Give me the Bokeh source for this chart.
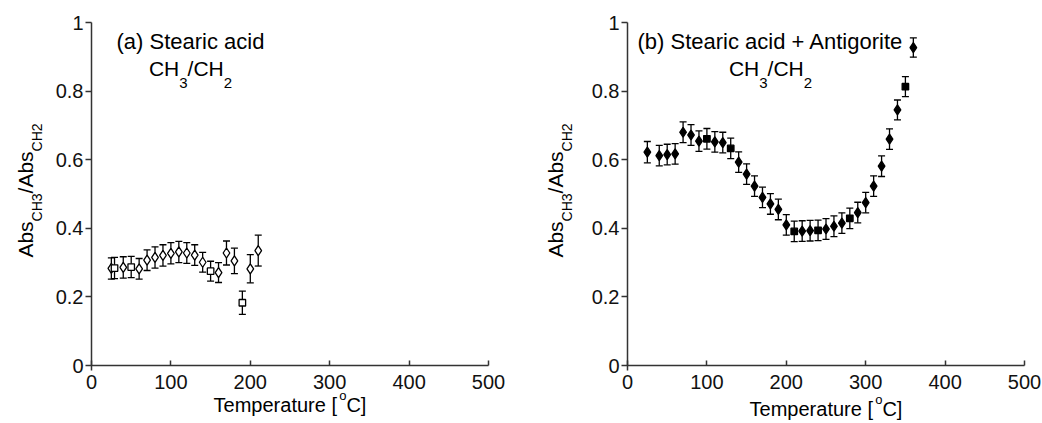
import math
from bokeh.plotting import figure
from bokeh.layouts import row
from bokeh.models import (ColumnDataSource, Whisker, TeeHead, Range1d, FixedTicker,
                          CustomJSTickFormatter, Label, LinearAxis)
from bokeh.embed import file_html
from bokeh.resources import INLINE

# ---------------- data ----------------
a_temp = [25, 29, 40, 50, 60, 70, 80, 90, 100, 110, 120, 130, 140, 150, 160, 170, 180, 190, 200, 210]
a_ratio = [0.283, 0.284, 0.286, 0.287, 0.282, 0.307, 0.315, 0.321, 0.327, 0.331, 0.328, 0.322,
           0.301, 0.275, 0.271, 0.328, 0.305, 0.183, 0.282, 0.335]
a_err = [0.031, 0.031, 0.031, 0.031, 0.030, 0.030, 0.031, 0.031, 0.031, 0.031, 0.030, 0.030,
         0.029, 0.029, 0.029, 0.035, 0.037, 0.034, 0.041, 0.045]
a_square_temps = [29, 50, 150, 190]

b_temp = [25, 40, 50, 60, 70, 80, 90, 100, 110, 120, 130, 140, 150, 160, 170, 180, 190, 200,
          210, 220, 230, 240, 250, 260, 270, 280, 290, 300, 310, 320, 330, 340, 350, 360]
b_ratio = [0.622, 0.612, 0.615, 0.617, 0.680, 0.672, 0.654, 0.661, 0.652, 0.650, 0.633, 0.593,
           0.558, 0.523, 0.490, 0.471, 0.455, 0.410, 0.391, 0.392, 0.393, 0.394, 0.398, 0.406,
           0.415, 0.429, 0.446, 0.475, 0.523, 0.581, 0.660, 0.745, 0.813, 0.927]
b_err = [0.031, 0.030, 0.030, 0.030, 0.030, 0.030, 0.030, 0.030, 0.030, 0.030, 0.030, 0.030,
         0.030, 0.030, 0.030, 0.030, 0.030, 0.030, 0.030, 0.030, 0.030, 0.030, 0.030, 0.030,
         0.030, 0.030, 0.030, 0.030, 0.030, 0.030, 0.030, 0.029, 0.029, 0.028]
b_square_temps = [100, 130, 210, 240, 280, 350]

x_ticks = [0, 100, 200, 300, 400, 500]
y_ticks = [0, 0.2, 0.4, 0.6, 0.8, 1]

title_a = "(a) Stearic acid"
title_b = "(b) Stearic acid + Antigorite"

FONT = "Liberation Sans"
# Arial-compatible advance widths (em)
W = {'A': .667, 'b': .556, 's': .5, 'C': .722, 'H': .722, '3': .556, '2': .556, '/': .278,
     'T': .611, 'e': .556, 'm': .833, 'p': .556, 'r': .333, 'a': .556, 't': .278, 'u': .556,
     ' ': .278, '[': .278, ']': .278, 'o': .556}


def tw(s, size):
    return sum(W.get(c, .556) for c in s) * size


FRAME_W, FRAME_H = 397, 343   # px of the 0..500 x 0..1 data box
BOX_TOP = 22                  # page px of y = 1
BOX_BOTTOM = BOX_TOP + FRAME_H
FIG_H = 423
XS = FRAME_W / 500.0          # px per x unit
YS = FRAME_H / 1.0            # px per y unit


def make_panel(temps, ratio, err, square_temps, box_left, fig_left, width, filled,
               title, title_cx, ylab_base, xlab_base):
    left_px = box_left - fig_left
    x_range = Range1d(-left_px / XS, (width - left_px) / XS)
    y_range = Range1d(-(FIG_H - BOX_BOTTOM) / YS, 1 + BOX_TOP / YS)
    p = figure(width=width, height=FIG_H, x_range=x_range, y_range=y_range,
               output_backend="svg", toolbar_location=None,
               x_axis_location=None, y_axis_location=None, min_border=0)
    p.outline_line_color = None
    p.grid.visible = False
    p.background_fill_color = "white"
    p.border_fill_color = "white"

    xaxis = LinearAxis(fixed_location=0, bounds=(0, 500), ticker=FixedTicker(ticks=x_ticks))
    yaxis = LinearAxis(fixed_location=0, bounds=(-0.015, 1), ticker=FixedTicker(ticks=y_ticks),
                       formatter=CustomJSTickFormatter(code="return String(Math.round(tick*10)/10);"))
    for ax in (xaxis, yaxis):
        ax.axis_line_color = "#333333"
        ax.axis_line_width = 1.5
        ax.major_tick_line_color = "#333333"
        ax.major_tick_line_width = 1.5
        ax.minor_tick_line_color = None
        ax.major_label_text_font = FONT
        ax.major_label_text_font_size = "20px"
        ax.major_label_text_color = "#111111"
    xaxis.major_tick_in = 5
    xaxis.major_tick_out = 0
    xaxis.major_label_standoff = 9
    yaxis.major_tick_in = 0
    yaxis.major_tick_out = 6
    yaxis.major_label_standoff = 2
    p.add_layout(xaxis, "below")
    p.add_layout(yaxis, "left")

    lower = [r - e for r, e in zip(ratio, err)]
    upper = [r + e for r, e in zip(ratio, err)]
    src = ColumnDataSource(dict(x=temps, lower=lower, upper=upper))
    wk = Whisker(base="x", lower="lower", upper="upper", source=src,
                 line_color="black", line_width=1.3,
                 upper_head=TeeHead(size=7, line_color="black", line_width=1.3),
                 lower_head=TeeHead(size=7, line_color="black", line_width=1.3))
    p.add_layout(wk)

    dx = [t for t in temps if t not in square_temps]
    dy = [r for t, r in zip(temps, ratio) if t not in square_temps]
    sx = [t for t in temps if t in square_temps]
    sy = [r for t, r in zip(temps, ratio) if t in square_temps]
    fill = "black" if filled else "white"
    p.scatter(dx, dy, marker="diamond", size=10, fill_color=fill, line_color="black", line_width=1.3)
    p.scatter(sx, sy, marker="square", size=6.5, fill_color=fill, line_color="black", line_width=1.3)

    # page px -> data coordinates
    def X(px):
        return (px - box_left) / XS

    def Y(py):
        return (BOX_BOTTOM - py) / YS

    def lab(px, py, text, size, align="left", angle=0.0):
        p.add_layout(Label(x=X(px), y=Y(py), text=text, text_font=FONT,
                           text_font_size=f"{size}px", text_color="black",
                           text_align=align, text_baseline="alphabetic", angle=angle))

    # title (anchor positions include an empirical offset for the label anchoring)
    lab(title_cx, 41, title, 22, align="center")
    # CH3/CH2 line
    pieces = [("CH", 21, 68), ("3", 15, 82), ("/CH", 21, 68), ("2", 15, 82)]
    total = sum(tw(t, s) for t, s, _ in pieces)
    x0 = title_cx - total / 2
    for t, s, py in pieces:
        lab(x0, py, t, s)
        x0 += tw(t, s)

    # y-axis label (rotated)
    pieces = [("Abs", 21, 0), ("CH3", 14, 11), ("/Abs", 21, 0), ("CH2", 14, 11)]
    total = sum(tw(t, s) for t, s, _ in pieces)
    y0 = 190 + total / 2
    for t, s, d in pieces:
        lab(ylab_base + d, y0, t, s, angle=math.pi / 2)
        y0 -= tw(t, s)

    # x-axis label
    pieces = [("Temperature [", 20, 0), ("o", 13, -9), ("C]", 20, 0)]
    total = sum(tw(t, s) for t, s, _ in pieces)
    x0 = box_left + FRAME_W / 2 - total / 2
    for t, s, d in pieces:
        lab(x0, xlab_base + d, t, s)
        x0 += tw(t, s)
    return p


p1 = make_panel(a_temp, a_ratio, a_err, a_square_temps, box_left=91, fig_left=0, width=528,
                filled=False, title=title_a, title_cx=190, ylab_base=25, xlab_base=404)
p2 = make_panel(b_temp, b_ratio, b_err, b_square_temps, box_left=627, fig_left=528, width=514,
                filled=True, title=title_b, title_cx=770, ylab_base=555, xlab_base=408)

layout = row(p1, p2)
open("out.html", "w").write(file_html(layout, INLINE))
